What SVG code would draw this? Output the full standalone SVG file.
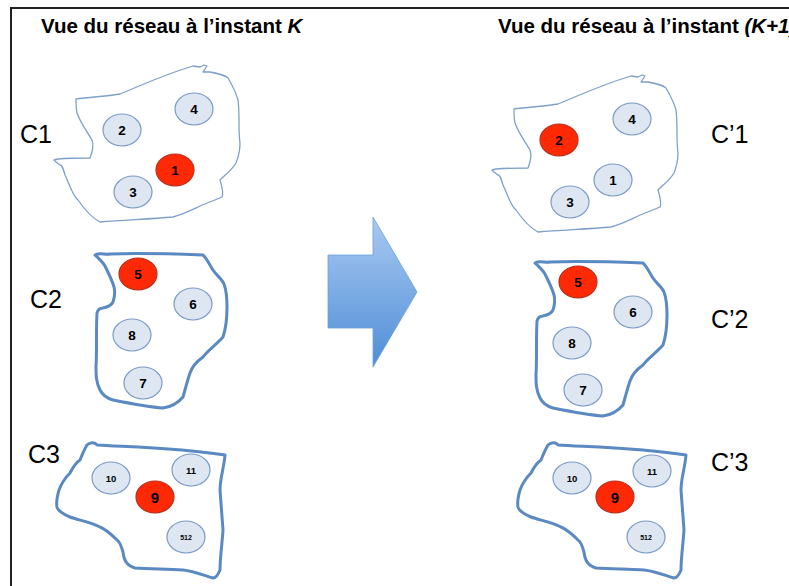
<svg xmlns="http://www.w3.org/2000/svg" width="789" height="586" viewBox="0 0 789 586">
<style>
.title{font-family:"Liberation Sans",Arial,sans-serif;font-weight:bold;font-size:20.5px;fill:#000}
.lbl{font-family:"Liberation Sans",Arial,sans-serif;font-size:25px;fill:#000}
.c1{fill:#fff;stroke:#7fa0cb;stroke-width:1.3;stroke-linejoin:round}
.c23{fill:#fff;stroke:#5b89c1;stroke-width:3;stroke-linejoin:round}
.n{fill:#dde6f1;stroke:#7b9bc6;stroke-width:1.2}
.r{fill:#ff2a05;stroke:#b8301c;stroke-width:1.2}
.t{font-family:"Liberation Sans",Arial,sans-serif;font-weight:bold;font-size:13.5px;fill:#000;text-anchor:middle}
.t2{font-family:"Liberation Sans",Arial,sans-serif;font-weight:bold;font-size:9.5px;fill:#000;text-anchor:middle}
.t3{font-family:"Liberation Sans",Arial,sans-serif;font-weight:bold;font-size:7px;fill:#000;text-anchor:middle}
.t9{font-family:"Liberation Sans",Arial,sans-serif;font-weight:bold;font-size:15px;fill:#000;text-anchor:middle}
</style>
<defs>
<linearGradient id="ag" x1="0" y1="0" x2="0" y2="1">
<stop offset="0" stop-color="#a9c9f2"/>
<stop offset="1" stop-color="#4f8ed6"/>
</linearGradient>
<path id="p1" d="M76,99 C90,97 110,96 120,94 C140,86 160,76 193,66 L200,67 L204,65 L207,66 L203,72 L210,72 C220,74 225,75 228,78 C232,85 236,92 238,100 C240,115 238,130 240,143 C240,152 238,158 236,163 C232,170 225,175 220,180 C222,187 224,193 222,197 C215,200 210,202 207,203 C195,208 185,214 173,217 C150,219 125,220 100,222 C92,218 85,210 78,200 C72,195 70,185 65,175 C63,168 62,165 60,165 L56,162 L54,160 L58,159 C70,158 80,158 90,158 C93,150 94,145 92,140 C86,130 80,122 77,113 C76,108 76,103 76,99 Z"/>
<path id="p2" d="M95,255 C100,252 105,255 110,254 C140,253 175,254 203,255 C208,260 210,266 213,270 C217,276 222,279 224,284 C227,292 227,300 227,307 C227,318 226,328 223,337 C216,345 208,350 203,357 C196,362 192,367 190,373 C187,382 185,390 183,397 C178,403 170,407 163,408 C148,407 128,403 113,400 C106,398 102,394 100,390 C96,382 96,375 96,367 C97,350 96,330 97,313 C98,309 100,308 103,308 C108,307 111,306 113,302 C115,296 115,291 114,287 C112,280 108,272 105,266 C102,261 98,258 95,255 Z"/>
<path id="p3" d="M87,445 C90,442 95,442 97,445 C130,447 180,448 225,455 C224,468 220,478 220,490 C221,505 222,518 223,530 C222,545 220,558 220,570 C218,575 216,578 213,578 C203,575 193,571 183,570 C165,569 150,569 135,568 C126,565 124,560 123,552 C121,545 119,541 117,540 C110,533 105,529 100,527 C90,522 78,520 70,517 C63,514 58,511 57,507 C56,502 57,497 59,490 C62,482 66,477 70,473 C73,467 77,462 80,460 C82,455 84,450 87,445 Z"/>
</defs>
<rect width="789" height="586" fill="#fff"/>
<path d="M11,586 V8 H789" fill="none" stroke="#222" stroke-width="2"/>
<text class="title" x="41" y="33">Vue du réseau à l’instant <tspan font-style="italic">K</tspan></text>
<text class="title" x="498" y="33">Vue du réseau à l’instant <tspan font-style="italic">(K+1)</tspan></text>

<g id="cluster-C1">
<use href="#p1" class="c1"/>
<text class="lbl" x="20" y="143">C1</text>
</g>
<g id="cluster-C2">
<use href="#p2" class="c23"/>
<text class="lbl" x="30" y="308">C2</text>
</g>
<g id="cluster-C3">
<use href="#p3" class="c23"/>
<text class="lbl" x="28" y="463">C3</text>
</g>
<g id="cluster-C1p">
<use href="#p1" class="c1" transform="translate(438,10)"/>
<text class="lbl" x="711" y="143">C’1</text>
</g>
<g id="cluster-C2p">
<use href="#p2" class="c23" transform="translate(440,8)"/>
<text class="lbl" x="711" y="328">C’2</text>
</g>
<g id="cluster-C3p">
<use href="#p3" class="c23" transform="translate(461,0)"/>
<text class="lbl" x="711" y="471">C’3</text>
</g>

<g id="L2"><ellipse class="n" cx="122" cy="130" rx="19" ry="16"/><text class="t" x="122" y="134.5">2</text></g>
<g id="L4"><ellipse class="n" cx="194" cy="109" rx="19" ry="16"/><text class="t" x="194" y="113.5">4</text></g>
<g id="L1"><ellipse class="r" cx="175" cy="170" rx="19" ry="16"/><text class="t" x="175" y="174.5">1</text></g>
<g id="L3"><ellipse class="n" cx="133" cy="192" rx="19" ry="16"/><text class="t" x="133" y="196.5">3</text></g>

<g id="L5"><ellipse class="r" cx="138" cy="274" rx="19" ry="16"/><text class="t" x="138" y="278.5">5</text></g>
<g id="L6"><ellipse class="n" cx="193" cy="304" rx="19" ry="16"/><text class="t" x="193" y="308.5">6</text></g>
<g id="L8"><ellipse class="n" cx="132" cy="335" rx="19" ry="16"/><text class="t" x="132" y="339.5">8</text></g>
<g id="L7"><ellipse class="n" cx="143" cy="383" rx="19" ry="16"/><text class="t" x="143" y="387.5">7</text></g>

<g id="L10"><ellipse class="n" cx="111" cy="478" rx="19" ry="16"/><text class="t2" x="111" y="481.5">10</text></g>
<g id="L11"><ellipse class="n" cx="191" cy="470" rx="19" ry="16"/><text class="t2" x="191" y="473.5">11</text></g>
<g id="L9"><ellipse class="r" cx="155" cy="497" rx="19" ry="16"/><text class="t9" x="155" y="502.5">9</text></g>
<g id="L512"><ellipse class="n" cx="186" cy="537" rx="19" ry="16"/><text class="t3" x="186" y="539.5">512</text></g>

<g id="R2"><ellipse class="r" cx="559" cy="140" rx="19" ry="16"/><text class="t" x="559" y="144.5">2</text></g>
<g id="R4"><ellipse class="n" cx="632" cy="119" rx="19" ry="16"/><text class="t" x="632" y="123.5">4</text></g>
<g id="R1"><ellipse class="n" cx="613" cy="180" rx="19" ry="16"/><text class="t" x="613" y="184.5">1</text></g>
<g id="R3"><ellipse class="n" cx="570" cy="202" rx="19" ry="16"/><text class="t" x="570" y="206.5">3</text></g>

<g id="R5"><ellipse class="r" cx="578" cy="282" rx="19" ry="16"/><text class="t" x="578" y="286.5">5</text></g>
<g id="R6"><ellipse class="n" cx="633" cy="312" rx="19" ry="16"/><text class="t" x="633" y="316.5">6</text></g>
<g id="R8"><ellipse class="n" cx="572" cy="343" rx="19" ry="16"/><text class="t" x="572" y="347.5">8</text></g>
<g id="R7"><ellipse class="n" cx="583" cy="390" rx="19" ry="16"/><text class="t" x="583" y="394.5">7</text></g>

<g id="R10"><ellipse class="n" cx="572" cy="478" rx="19" ry="16"/><text class="t2" x="572" y="481.5">10</text></g>
<g id="R11"><ellipse class="n" cx="652" cy="471" rx="19" ry="16"/><text class="t2" x="652" y="474.5">11</text></g>
<g id="R9"><ellipse class="r" cx="615" cy="497" rx="19" ry="16"/><text class="t9" x="615" y="502.5">9</text></g>
<g id="R512"><ellipse class="n" cx="646" cy="537" rx="19" ry="16"/><text class="t3" x="646" y="539.5">512</text></g>

<g id="connectors">
<polygon points="328,255 373,255 373,217 417,292 373,367 373,328 328,328" fill="url(#ag)" stroke="#6d9fd8" stroke-width="0.8"/>
</g>
</svg>
